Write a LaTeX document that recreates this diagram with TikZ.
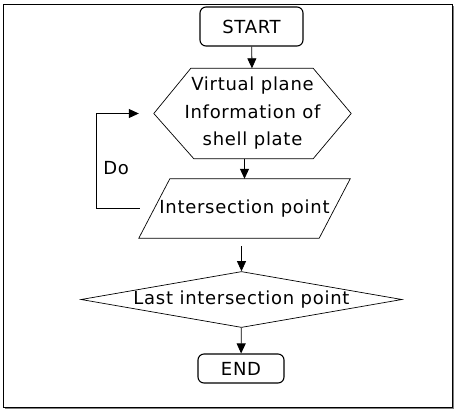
\documentclass[tikz,border=0pt]{standalone}
\usepackage{fontspec}
\setmainfont{DejaVu Sans}[LetterSpace=4.0]
\usetikzlibrary{shapes.geometric,arrows.meta,calc}
\tikzset{
    every node/.style={font=\fontsize{18}{27.5}\selectfont},
    startstop/.style={draw, rounded corners=6pt, line width=1.1pt, inner sep=0pt},
    plainbox/.style={rectangle, inner sep=0pt, align=center},
    outline/.style={line width=0.7pt},
    decision/.style={draw, diamond, aspect=5.7, inner sep=0pt,
        minimum width=321pt, minimum height=56pt, line width=0.7pt},
    flowarrow/.style={-{Triangle[width=9pt,length=10pt]}, line width=0.8pt}
}
\begin{document}
    \begin{tikzpicture}[x=1pt, y=-1pt]
        \useasboundingbox (0,0) rectangle (457,413);
        % frame
        \draw[gray, line width=1.2pt] (5,408) -- (453.5,408) -- (453.5,6);
        \draw[line width=1pt] (3,4) rectangle (452,407);

        \node[startstop, minimum width=103pt, minimum height=39pt] (start) at (251.5,26.5) {START};
        \node[plainbox, minimum width=197pt, minimum height=90pt] (plane) at (252.5,113.5)
            {Virtual plane\\Information of\\shell plate};
        \node[plainbox, minimum width=211pt, minimum height=59pt] (point) at (244.5,208.5) {Intersection point};
        \node[decision] (last) at (241.5,299.5) {Last intersection point};
        \node[startstop, minimum width=86pt, minimum height=29pt] (end) at (241,368.5) {END};

        % hexagon and parallelogram outlines
        \draw[outline] ([xshift=37pt]plane.north west) -- ([xshift=-38pt]plane.north east) -- (plane.east)
            -- ([xshift=-38pt]plane.south east) -- ([xshift=40pt]plane.south west) -- (plane.west) -- cycle;
        \draw[outline] ([xshift=31pt]point.north west) -- (point.north east)
            -- ([xshift=-31pt]point.south east) -- (point.south west) -- cycle;

        \draw[flowarrow] (start) -- (plane);
        \draw[flowarrow] (plane.south -| point.north) -- (point.north);
        \draw[flowarrow] ([yshift=-8pt]point.south -| last.north) -- (last.north);
        \draw[flowarrow] (last) -- (end);

        % loop back
        \coordinate (loopend) at ([xshift=-15pt]plane.west);
        \draw[flowarrow] ([xshift=1pt]point.west) -- ++(-43,0) coordinate (loopturn) |- (loopend);
        \node[anchor=west] (do) at ($(loopturn)!0.5!(loopturn |- loopend)+(3,7)$) {Do};
    \end{tikzpicture}
\end{document}
